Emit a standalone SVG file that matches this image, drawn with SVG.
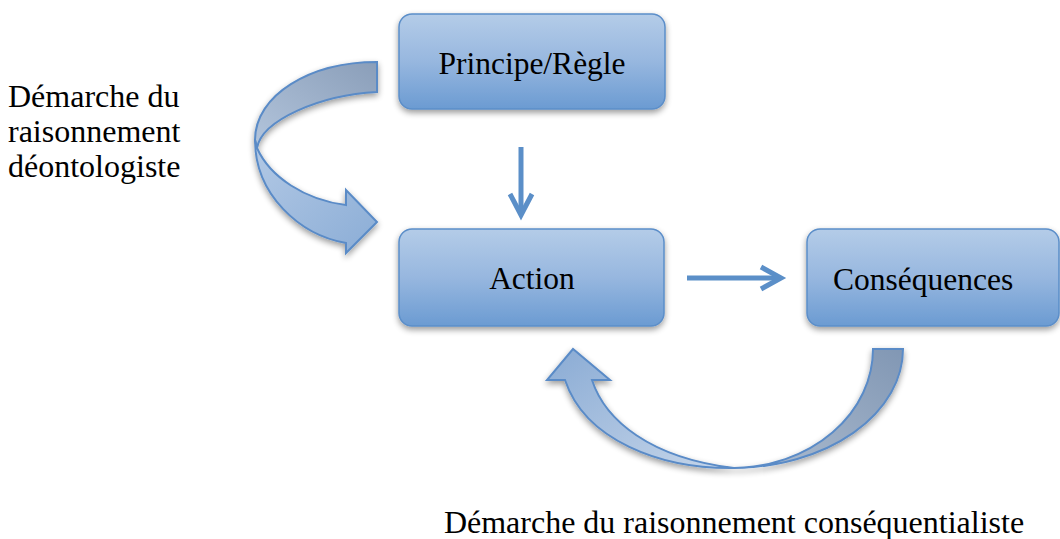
<svg xmlns="http://www.w3.org/2000/svg" width="1060" height="539" viewBox="0 0 1060 539">
<style>
  .box { fill: url(#boxGrad); stroke: #5b8ec9; stroke-width: 1.5; filter: url(#shadow); }
  .lbl { font-family: "Liberation Serif", "Times New Roman", serif; font-size: 31.5px; fill: #000; }
  .txt { font-family: "Liberation Serif", "Times New Roman", serif; font-size: 32px; fill: #000; }
  .conn { fill: none; stroke: #5b8fc8; stroke-width: 5; }
  .band { stroke: #5a8bc7; stroke-width: 2; stroke-linejoin: miter; }
</style>
<defs>
  <linearGradient id="boxGrad" x1="0" y1="0" x2="0" y2="1">
    <stop offset="0" stop-color="#b4cce8"/>
    <stop offset="0.5" stop-color="#97b7df"/>
    <stop offset="1" stop-color="#6b9bd2"/>
  </linearGradient>
  <linearGradient id="backL" x1="1" y1="0" x2="0" y2="1">
    <stop offset="0" stop-color="#8a9eb9"/>
    <stop offset="1" stop-color="#b3c5dc"/>
  </linearGradient>
  <linearGradient id="frontL" x1="0" y1="0" x2="1" y2="1">
    <stop offset="0" stop-color="#b3c9e5"/>
    <stop offset="1" stop-color="#8badd6"/>
  </linearGradient>
  <linearGradient id="backB" x1="1" y1="0" x2="0" y2="1">
    <stop offset="0" stop-color="#8197b4"/>
    <stop offset="1" stop-color="#aebdd0"/>
  </linearGradient>
  <linearGradient id="frontB" x1="0" y1="0" x2="1" y2="1">
    <stop offset="0" stop-color="#8aabd4"/>
    <stop offset="1" stop-color="#c6d6ea"/>
  </linearGradient>
  <filter id="shadow" x="-10%" y="-10%" width="120%" height="130%">
    <feGaussianBlur in="SourceAlpha" stdDeviation="3"/>
    <feOffset dx="0" dy="3" result="b"/>
    <feComponentTransfer><feFuncA type="linear" slope="0.4"/></feComponentTransfer>
    <feMerge><feMergeNode/><feMergeNode in="SourceGraphic"/></feMerge>
  </filter>
</defs>

<g id="node-principe">
  <rect class="box" x="399" y="14" width="266" height="95" rx="13"/>
  <text class="lbl" x="532" y="74" text-anchor="middle">Principe/Règle</text>
</g>
<g id="node-action">
  <rect class="box" x="399" y="229" width="265" height="97" rx="13"/>
  <text class="lbl" x="532" y="289" text-anchor="middle">Action</text>
</g>
<g id="node-consequences">
  <rect class="box" x="807" y="229" width="252" height="97" rx="13"/>
  <text class="lbl" x="833" y="290">Conséquences</text>
</g>

<g id="label-deontologiste">
  <text class="txt" x="8" y="107">Démarche du</text>
  <text class="txt" x="8" y="142">raisonnement</text>
  <text class="txt" x="8" y="177">déontologiste</text>
</g>
<g id="label-consequentialiste">
  <text class="txt" x="734" y="533" text-anchor="middle">Démarche du raisonnement conséquentialiste</text>
</g>

<g id="connectors">
  <!-- Principe -> Action -->
  <line class="conn" x1="521" y1="147" x2="521" y2="214"/>
  <polyline class="conn" points="510,194 521,215 532,194"/>
  <!-- Action -> Conséquences -->
  <line class="conn" x1="687" y1="278" x2="780" y2="278"/>
  <polyline class="conn" points="761,267 781,278 761,289"/>

  <!-- left curved arrow (déontologiste) -->
  <g id="curve-left" filter="url(#shadow)">
    <path class="band" fill="url(#backL)" d="M377,62 C310,62 255,95 255,140 L257,148 C262,120 320,95 377,92 Z"/>
    <path class="band" fill="url(#frontL)" d="M255,140 C255,195 300,235 346,243 L346,253 L377,222 L346,190 L346,205 C305,200 270,177 257,148 Z"/>
  </g>

  <!-- bottom curved arrow (conséquentialiste) -->
  <g id="curve-bottom" filter="url(#shadow)">
    <path class="band" fill="url(#backB)" d="M903,349 A171,119 0 0 1 734,468 A141,119 0 0 0 873,349 Z"/>
    <path class="band" fill="url(#frontB)" d="M734,468 C660,469 585,440 565,380 L547,380 L573,349 L610,380 L592,380 C605,420 650,458 734,468 Z"/>
  </g>
</g>
</svg>
